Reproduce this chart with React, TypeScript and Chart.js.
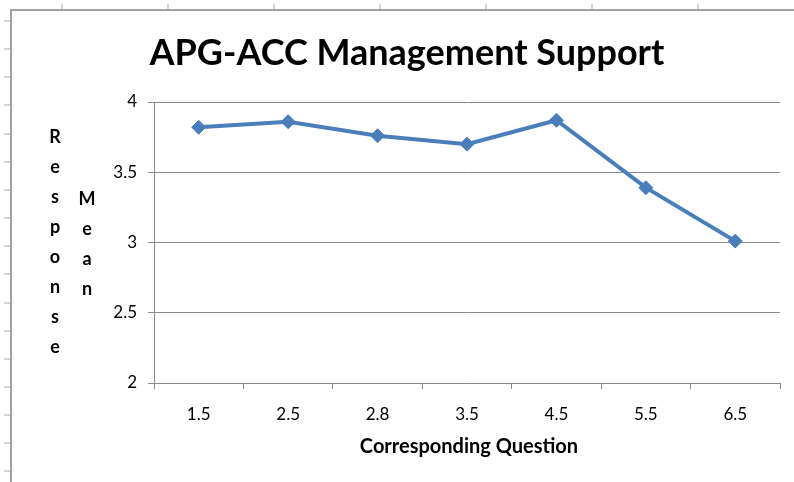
import React, { useEffect, useRef } from "react";
import { Chart, registerables } from "chart.js";

Chart.register(...registerables);

const categories = ["1.5", "2.5", "2.8", "3.5", "4.5", "5.5", "6.5"];
const responseMeans = [3.82, 3.86, 3.76, 3.7, 3.87, 3.39, 3.01];
const yMin = 2;
const yMax = 4;
const yStep = 0.5;
const chartTitle = "APG-ACC Management Support";
const xAxisTitle = "Corresponding Question";
const yAxisWords = ["Response", "Mean"];

const FONT = "Lato, 'Open Sans', sans-serif";
const GRID = "#8a8a8a";
const LINE = "#4a7ebb";

const decorPlugin = {
  id: "decor",
  beforeDraw(chart: any) {
    const ctx = chart.ctx as CanvasRenderingContext2D;
    const W = chart.width;
    const H = chart.height;
    ctx.save();
    ctx.fillStyle = "#ffffff";
    ctx.fillRect(0, 0, W, H);
    ctx.fillStyle = "#d4d4d4";
    for (let x = 62; x < W; x += 106) ctx.fillRect(x - 1, 4, 2, 6);
    for (let y = 21; y < H; y += 28.15) ctx.fillRect(4, Math.round(y) - 1, 7, 2);
    ctx.strokeStyle = "#a0a0a0";
    ctx.lineWidth = 2;
    ctx.beginPath();
    ctx.moveTo(11, H);
    ctx.lineTo(11, 10);
    ctx.lineTo(W, 10);
    ctx.stroke();
    ctx.restore();
  },
  afterDraw(chart: any) {
    const ctx = chart.ctx as CanvasRenderingContext2D;
    const area = chart.chartArea;
    ctx.save();
    ctx.fillStyle = "#000000";
    ctx.textAlign = "center";
    ctx.textBaseline = "alphabetic";
    ctx.font = `bold 36px ${FONT}`;
    ctx.fillText(chartTitle, 407, 65);

    ctx.font = `bold 20px ${FONT}`;
    ctx.fillText(xAxisTitle, (area.left + area.right) / 2 + 2, 453);

    ctx.font = `bold 18px ${FONT}`;
    const cols = [55, 87];
    const starts = [143, 205];
    yAxisWords.forEach((word, wi) => {
      Array.from(word).forEach((ch, i) => {
        ctx.fillText(ch, cols[wi], starts[wi] + i * 30);
      });
    });
    ctx.restore();
  },
};

export default function App() {
  const ref = useRef<HTMLCanvasElement | null>(null);

  useEffect(() => {
    document.body.style.margin = "0";
    const canvas = ref.current;
    if (!canvas) return;
    const chart = new Chart(canvas, {
      type: "line",
      data: {
        labels: categories,
        datasets: [
          {
            label: "Response Mean",
            data: responseMeans,
            borderColor: LINE,
            backgroundColor: LINE,
            borderWidth: 4,
            pointStyle: "rectRot",
            pointRadius: 7,
            pointBackgroundColor: LINE,
            pointBorderColor: LINE,
            pointBorderWidth: 1,
            tension: 0,
            fill: false,
          },
        ],
      },
      options: {
        responsive: false,
        animation: false,
        devicePixelRatio: 1,
        layout: { padding: { left: 0, top: 102, right: 14, bottom: 0 } },
        plugins: {
          legend: { display: false },
          title: { display: false },
          tooltip: { enabled: false },
        },
        scales: {
          x: {
            type: "category",
            offset: true,
            grid: {
              offset: true,
              drawOnChartArea: false,
              drawTicks: true,
              tickLength: 6,
              color: GRID,
              tickColor: GRID,
            },
            border: { color: GRID, width: 1 },
            ticks: {
              color: "#000",
              font: { family: FONT, size: 17 },
              padding: 15,
              maxRotation: 0,
              autoSkip: false,
            },
            afterFit: (s: any) => {
              s.height = 99;
            },
          },
          y: {
            min: yMin,
            max: yMax,
            grid: {
              color: GRID,
              tickColor: GRID,
              tickLength: 6,
              drawTicks: true,
            },
            border: { color: GRID, width: 1 },
            ticks: {
              stepSize: yStep,
              color: "#000",
              font: { family: FONT, size: 17 },
              padding: 11,
              callback: (v: any) => `${v}`,
            },
            afterFit: (s: any) => {
              s.width = 154;
            },
          },
        },
      },
      plugins: [decorPlugin],
    });
    return () => chart.destroy();
  }, []);

  return (
    <div style={{ position: "fixed", left: 0, top: 0, width: 794, height: 482 }}>
      <canvas ref={ref} width={794} height={482} style={{ display: "block" }} />
    </div>
  );
}
